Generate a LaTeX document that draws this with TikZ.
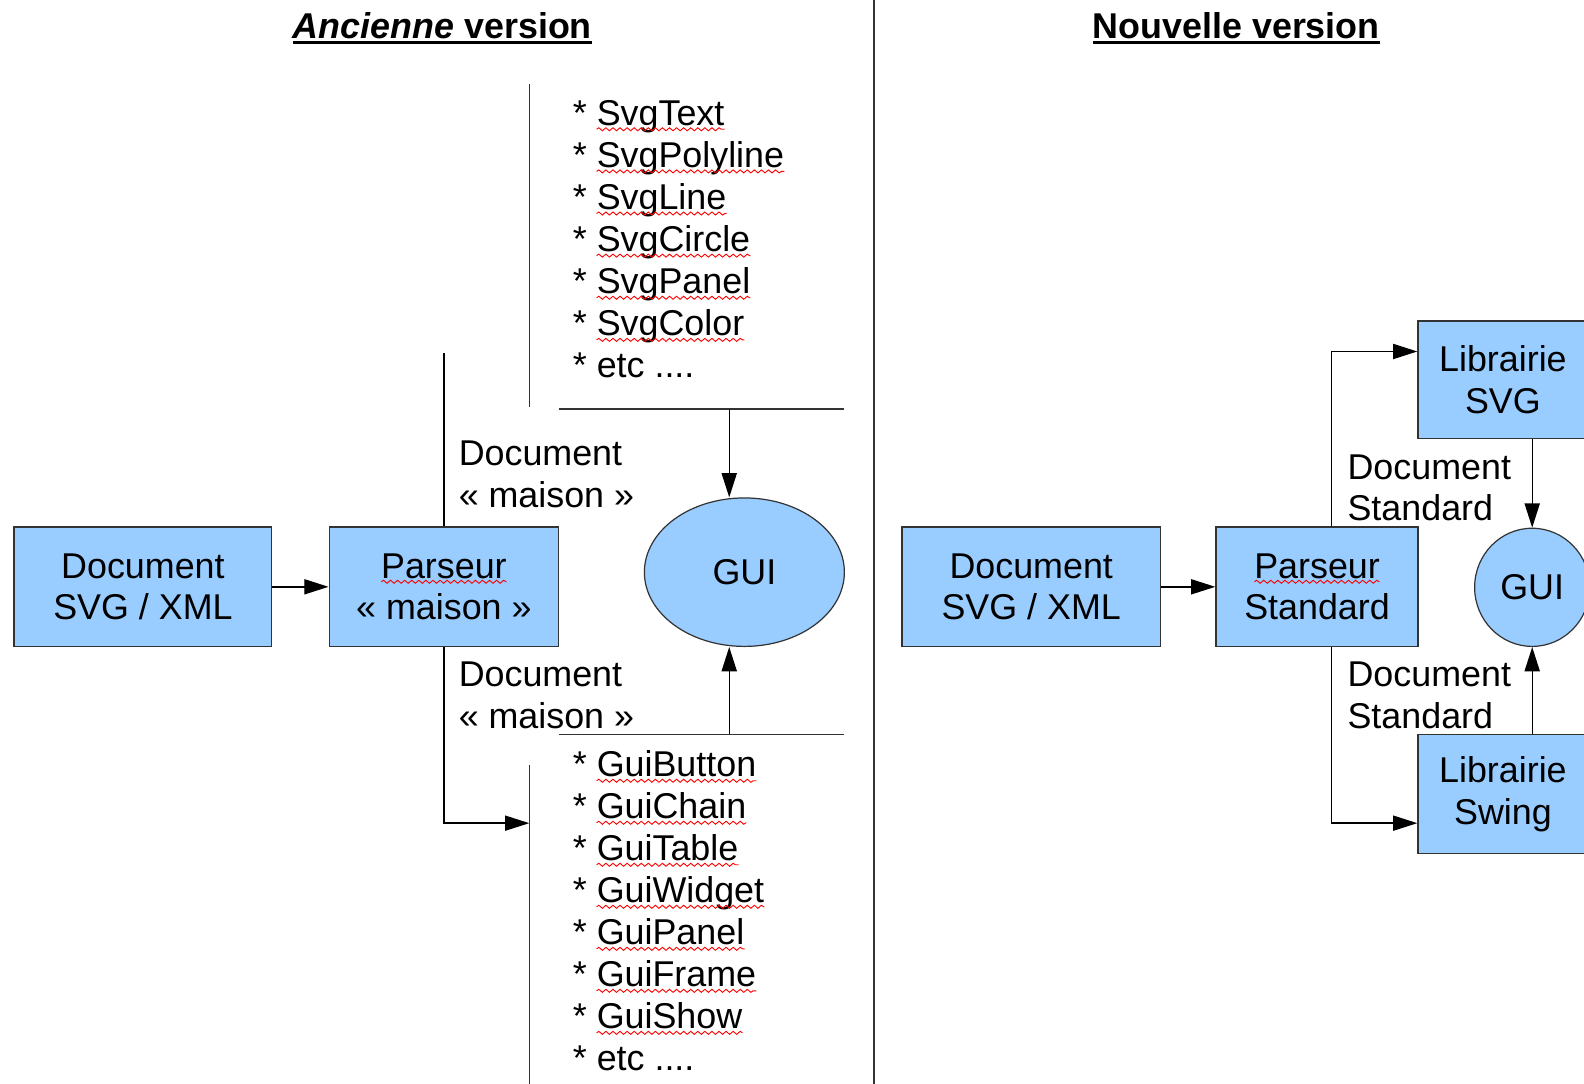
\documentclass[tikz,border=0pt]{standalone}
\usepackage{fontspec}
\setmainfont{Liberation Sans}
\usepackage{xcolor}
\usepackage{tikz}
\definecolor{boxblue}{HTML}{99CCFF}
\definecolor{edge}{HTML}{333333}
\tikzstyle{box} = [draw=edge, line width=1.5pt, fill=boxblue, minimum height=118pt, align=center, inner sep=0pt]
\tikzstyle{oval} = [ellipse, draw=edge, line width=1.2pt, fill=boxblue, inner sep=0pt]
\tikzstyle{arr} = [line width=1.4pt, -{Triangle[length=24pt,width=15pt]}]
\tikzstyle{wire} = [line width=1.4pt, draw=edge]
\tikzstyle{spell} = [red, line width=0.9pt, decorate, decoration={snake, amplitude=1.5pt, segment length=7pt}]
\tikzstyle{item} = [anchor=base west, inner sep=0pt]
\tikzstyle{note} = [anchor=west, align=left, inner sep=0pt]
\tikzstyle{heading} = [inner sep=0pt, font=\fontsize{35.5}{41.5}\selectfont\bfseries]
\usetikzlibrary{arrows.meta,calc,positioning,shapes.geometric,decorations.pathmorphing}

\begin{document}
\begin{tikzpicture}[x=1pt, y=-1pt, node distance=298pt]
  \tikzstyle{every node}=[font=\fontsize{35.5}{41.5}\selectfont]
  \useasboundingbox (0,0) rectangle (1568.3,1072.3);

  % ancienne version
  \node[heading] (ancien) at (438,25) {\textit{Ancienne} version};
  \draw[line width=3pt] ([yshift=-4pt]ancien.base west) -- ([yshift=-4pt]ancien.base east);
  \draw[wire, line width=2pt] (865,0) -- (865,1083);

  \node[box, minimum width=255pt] (docA) at (141.5,581) {Document\\SVG / XML};
  \node[box, minimum width=227pt] (parseA) [right of=docA] {Parseur\\«~maison~»};
  \draw[spell] ($(parseA.center)+(-62,-5)$) -- ($(parseA.center)+(62,-5)$);
  \node[oval, minimum width=198pt, minimum height=147pt] (guiA) at (737,566.5) {GUI};

  \draw[arr] (docA) -- (parseA);
  \draw[line width=1.4pt] (parseA.north) -- +(0,-172);
  \coordinate (guilist) at (524,815);
  \draw[arr] (parseA.south) |- (guilist);

  \node[note] (docmaison1) at (454,470) {Document\\«~maison~»};
  \node[note] (docmaison2) at (454,688) {Document\\«~maison~»};

  % composants svg
  \draw[wire] (524,83) -- (524,403);
  \draw[wire] (553,405) -- (836,405);
  \foreach \w [count=\i from 0] in {SvgText,SvgPolyline,SvgLine,SvgCircle,SvgPanel,SvgColor} {
    \node[item] (svg\i) at (567,{124+41.7*\i}) {*~\w};
    \draw[spell] ([xshift=23.7pt,yshift=-4pt]svg\i.base west) -- ([yshift=-4pt]svg\i.base east);
  }
  \node[item] (svgetc) at (567,374) {*~etc ....};
  \coordinate (svgfoot) at (722,405);
  \draw[arr] (svgfoot) -- (svgfoot |- guiA.north);

  % composants gui
  \draw[wire] (553,727) -- (836,727);
  \draw[wire] (524,757) -- (524,1083);
  \foreach \w [count=\i from 0] in {GuiButton,GuiChain,GuiTable,GuiWidget,GuiPanel,GuiFrame,GuiShow} {
    \node[item] (gui\i) at (567,{769+41.6*\i}) {*~\w};
    \draw[spell] ([xshift=23.7pt,yshift=-4pt]gui\i.base west) -- ([yshift=-4pt]gui\i.base east);
  }
  \node[item] (guietc) at (567,1060) {*~etc ....};
  \coordinate (guihead) at (722,727);
  \draw[arr] (guihead) -- (guihead |- guiA.south);

  % nouvelle version
  \node[heading] (nouveau) at (1224,25) {Nouvelle version};
  \draw[line width=3pt] ([yshift=-4pt]nouveau.base west) -- ([yshift=-4pt]nouveau.base east);

  \node[box, minimum width=256pt] (docB) at (1021,581) {Document\\SVG / XML};
  \node[box, minimum width=200pt] (parseB) [right of=docB, node distance=283pt] {Parseur\\Standard};
  \draw[spell] ($(parseB.center)+(-62,-5)$) -- ($(parseB.center)+(62,-5)$);
  \node[box, overlay, minimum width=196pt, minimum height=116pt] (libsvg) at (1502,376) {};
  \node[align=center] (libsvgtxt) at (1488,376) {Librairie\\SVG};
  \node[box, overlay, minimum width=196pt, minimum height=118pt] (libswing) at (1502,786) {};
  \node[align=center] (libswingtxt) at (1488,786) {Librairie\\Swing};
  \node[oval, overlay, minimum width=114pt, minimum height=117pt] (guiB) at (1517,581.5) {GUI};

  \draw[arr] (docB) -- (parseB);
  \draw[arr] ([xshift=14pt]parseB.north) |- ([yshift=28pt]libsvg.west);
  \draw[arr] ([xshift=14pt]parseB.south) |- ([yshift=-29pt]libswing.west);
  \draw[arr] (guiB.north |- libsvg.south) -- (guiB.north);
  \draw[arr] (guiB.south |- libswing.north) -- (guiB.south);

  \node[note] (docstd1) at (1334,483) {Document\\Standard};
  \node[note] (docstd2) at (1334,688) {Document\\Standard};
\end{tikzpicture}
\end{document}
